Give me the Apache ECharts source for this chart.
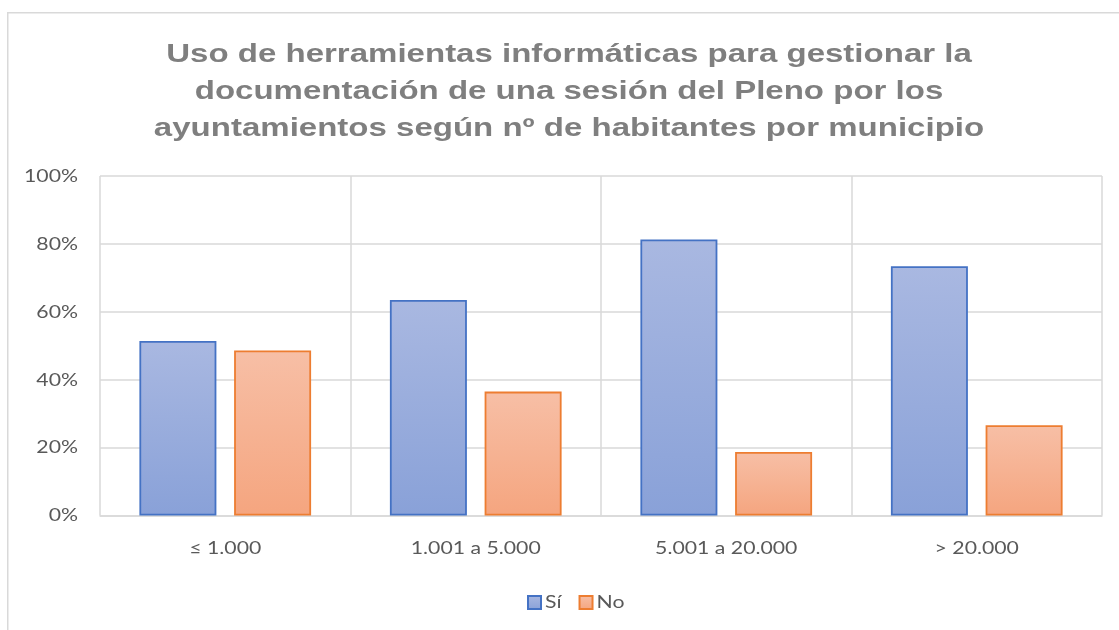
<!DOCTYPE html>
<html>
<head>
<meta charset="utf-8">
<script src="https://cdn.jsdelivr.net/npm/echarts@6/dist/echarts.min.js"></script>
<style>html,body{margin:0;padding:0;background:#fff}#c{width:1119px;height:630px}</style>
</head>
<body>
<div id="c"></div>
<script>
var titleText = 'Uso de herramientas informáticas para gestionar la\ndocumentación de una sesión del Pleno por los\nayuntamientos según nº de habitantes por municipio';
var categories = ['≤ 1.000', '1.001 a 5.000', '5.001 a 20.000', '> 20.000'];
var seriesNames = ['Sí', 'No'];
var siValues = [51.4, 63.5, 81.3, 73.4];
var noValues = [48.6, 36.5, 18.7, 26.6];
var yTicks = [0, 20, 40, 60, 80, 100];

// The reference text is horizontally stretched; reproduce that on the canvas
(function () {
  var proto = window.CanvasRenderingContext2D && CanvasRenderingContext2D.prototype;
  if (!proto) return;
  function factor(font) {
    var m = /(\d+(?:\.\d+)?)px/.exec(font || '');
    var size = m ? parseFloat(m[1]) : 12;
    return size >= 24 ? 1.27 : (size >= 17 ? 1.18 : 1);
  }
  var origFill = proto.fillText;
  proto.fillText = function (text, x, y, maxWidth) {
    var sx = factor(this.font);
    if (sx === 1) return origFill.apply(this, arguments);
    this.save();
    this.translate(x, y);
    this.scale(sx, 1);
    if (maxWidth !== undefined) origFill.call(this, text, 0, 0, maxWidth / sx);
    else origFill.call(this, text, 0, 0);
    this.restore();
  };
  var origMeasure = proto.measureText;
  proto.measureText = function (text) {
    var m = origMeasure.call(this, text);
    var sx = factor(this.font);
    if (sx === 1) return m;
    return {
      width: m.width * sx,
      actualBoundingBoxLeft: m.actualBoundingBoxLeft * sx,
      actualBoundingBoxRight: m.actualBoundingBoxRight * sx,
      actualBoundingBoxAscent: m.actualBoundingBoxAscent,
      actualBoundingBoxDescent: m.actualBoundingBoxDescent,
      fontBoundingBoxAscent: m.fontBoundingBoxAscent,
      fontBoundingBoxDescent: m.fontBoundingBoxDescent
    };
  };
})();

var chart = echarts.init(document.getElementById('c'), null, {renderer: 'canvas'});
function grad(top, bottom) {
  return new echarts.graphic.LinearGradient(0, 0, 0, 1, [
    {offset: 0, color: top}, {offset: 1, color: bottom}
  ]);
}
var labelFont = 'Lato, "Open Sans", sans-serif';
chart.setOption({
  animation: false,
  graphic: [{
    type: 'rect', left: 7, top: 12, z: -10,
    shape: {width: 1130, height: 640},
    style: {fill: '#fff', stroke: '#d9d9d9', lineWidth: 1.5}
  }],
  title: {
    text: titleText,
    left: 564, textAlign: 'center', top: 31,
    textStyle: {
      fontFamily: '"Liberation Sans", Arial, sans-serif',
      fontWeight: 'bold', fontSize: 26, lineHeight: 37, color: '#7f7f7f'
    }
  },
  legend: {
    data: seriesNames,
    left: 527, top: 592, padding: 0,
    itemWidth: 13, itemHeight: 13, itemGap: 17,
    icon: 'rect',
    textStyle: {fontFamily: labelFont, fontSize: 18, color: '#595959', padding: [0, 0, 0, -1]}
  },
  grid: {left: 100, right: 17, top: 176, bottom: 114.5},
  xAxis: {
    type: 'category',
    data: categories,
    axisLine: {lineStyle: {color: '#d9d9d9', width: 1.5}},
    axisTick: {show: false},
    splitLine: {show: true, lineStyle: {color: '#d9d9d9', width: 1.5}},
    axisLabel: {fontFamily: labelFont, fontSize: 18, color: '#595959', margin: 22}
  },
  yAxis: {
    type: 'value',
    min: yTicks[0], max: yTicks[yTicks.length - 1], interval: 20,
    axisLine: {show: false},
    axisTick: {show: false},
    splitLine: {lineStyle: {color: '#d9d9d9', width: 1.5}},
    axisLabel: {fontFamily: labelFont, fontSize: 18, color: '#595959', margin: 22, formatter: '{value}%'}
  },
  series: [{
    name: seriesNames[0], type: 'bar', data: siValues,
    barWidth: 77, barGap: '23%',
    itemStyle: {color: grad('#a9b8e1', '#89a1d8'), borderColor: '#4472c4', borderWidth: 1.8}
  }, {
    name: seriesNames[1], type: 'bar', data: noValues,
    barWidth: 77,
    itemStyle: {color: grad('#f7bfa6', '#f5a57f'), borderColor: '#ed7d31', borderWidth: 1.8}
  }]
});
</script>
</body>
</html>
